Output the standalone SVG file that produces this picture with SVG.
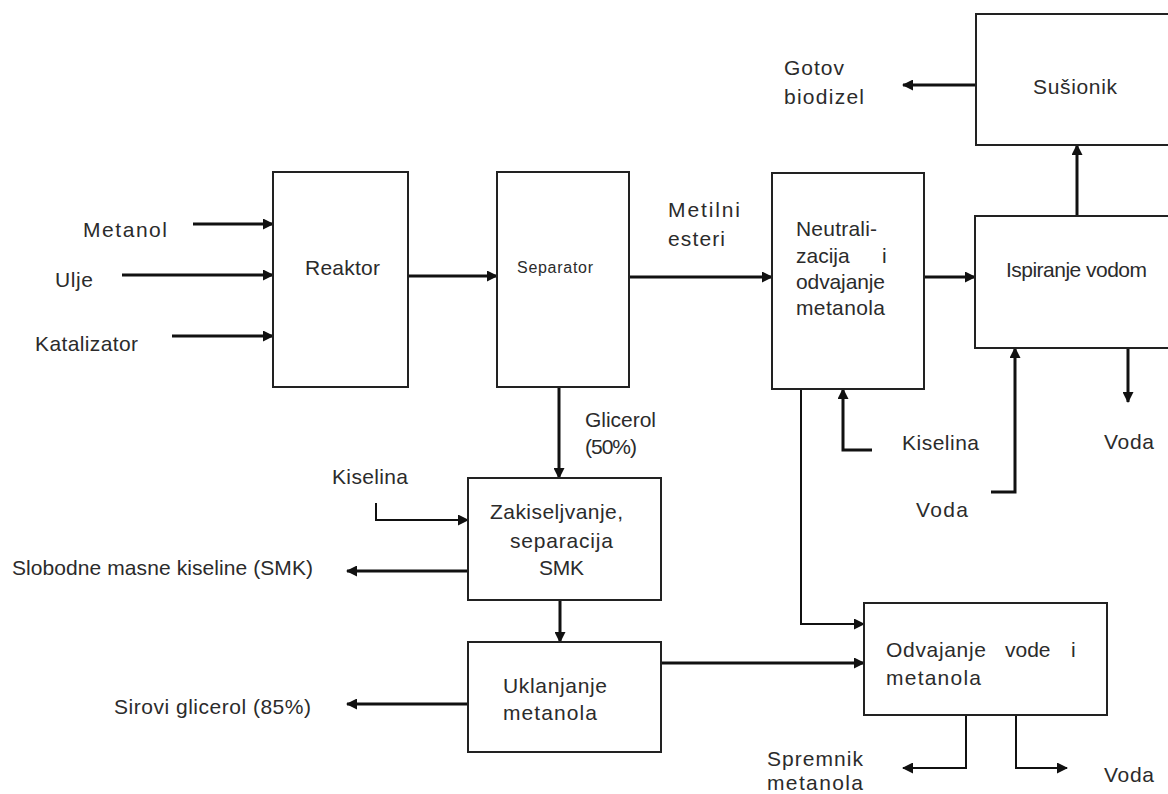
<svg xmlns="http://www.w3.org/2000/svg" width="1168" height="794" viewBox="0 0 1168 794">
<style>
.box{fill:#fff;stroke:#222;stroke-width:2}
.t{font-family:"Liberation Sans",Arial,sans-serif;font-size:21px;fill:#2b2b2b}
.s{font-size:16px}
.c{fill:none;stroke:#111;stroke-width:3;marker-end:url(#ah)}
.n{stroke-width:2}
</style>
<defs>
<marker id="ah" markerUnits="userSpaceOnUse" markerWidth="11" markerHeight="11" refX="10" refY="5.5" orient="auto">
<path d="M0,0 L11,5.5 L0,11 z" fill="#111"/>
</marker>
</defs>
<rect width="1168" height="794" fill="#fff"/>
<g id="connectors">
<path class="c" d="M193,224 H273"/>
<path class="c" d="M122,275 H273"/>
<path class="c" d="M172,336 H273"/>
<path class="c" d="M408,276 H497"/>
<path class="c" d="M629,277 H772"/>
<path class="c" d="M924,277 H975"/>
<path class="c" d="M1077,217 V145"/>
<path class="c" d="M976,85 H903"/>
<path class="c" d="M559,387 V478"/>
<path class="c n" d="M376,503 V520 H468"/>
<path class="c" d="M468,571 H347"/>
<path class="c" d="M560,600 V642"/>
<path class="c" d="M468,704 H347"/>
<path class="c" d="M661,663 H864"/>
<path class="c n" d="M801,389 V624 H864"/>
<path class="c" d="M872,450 H843 V389"/>
<path class="c" d="M991,492 H1015 V348"/>
<path class="c" d="M1128,348 V402"/>
<path class="c n" d="M966,715 V768 H903"/>
<path class="c n" d="M1016,715 V768 H1067"/>
</g>
<g id="reaktor"><rect class="box" x="273" y="172" width="135" height="215"/><text class="t" x="305" y="275" textLength="75">Reaktor</text></g>
<g id="separator"><rect class="box" x="497" y="172" width="132" height="215"/><text class="t s" x="517" y="273" textLength="76">Separator</text></g>
<g id="neutralizacija"><rect class="box" x="772" y="173" width="152" height="216"/>
<text class="t" x="796" y="236" textLength="81">Neutrali-</text>
<text class="t" x="796" y="263">zacija</text><text class="t" x="882" y="263">i</text>
<text class="t" x="796" y="289" textLength="89">odvajanje</text>
<text class="t" x="796" y="315" textLength="89">metanola</text></g>
<g id="ispiranje"><rect class="box" x="975" y="216" width="200" height="132"/><text class="t" x="1006" y="277" textLength="141">Ispiranje vodom</text></g>
<g id="susionik"><rect class="box" x="976" y="14" width="200" height="131"/><text class="t" x="1033" y="94" textLength="84">Sušionik</text></g>
<g id="zakiseljvanje"><rect class="box" x="468" y="478" width="193" height="122"/>
<text class="t" x="490" y="519" textLength="133">Zakiseljvanje,</text>
<text class="t" x="510" y="548" textLength="103">separacija</text>
<text class="t" x="539" y="575" textLength="45">SMK</text></g>
<g id="uklanjanje"><rect class="box" x="468" y="642" width="193" height="110"/>
<text class="t" x="503" y="693" textLength="104">Uklanjanje</text>
<text class="t" x="503" y="720" textLength="94">metanola</text></g>
<g id="odvajanje"><rect class="box" x="864" y="603" width="243" height="112"/>
<text class="t" x="886" y="657" textLength="100">Odvajanje</text><text class="t" x="1005" y="657">vode</text><text class="t" x="1071" y="657">i</text>
<text class="t" x="886" y="685" textLength="95">metanola</text></g>
<g id="labels">
<text class="t" x="83" y="237" textLength="84">Metanol</text>
<text class="t" x="55" y="287" textLength="38">Ulje</text>
<text class="t" x="35" y="351" textLength="103">Katalizator</text>
<text class="t" x="668" y="217" textLength="72">Metilni</text>
<text class="t" x="668" y="246" textLength="57">esteri</text>
<text class="t" x="784" y="75" textLength="60">Gotov</text>
<text class="t" x="784" y="104" textLength="80">biodizel</text>
<text class="t" x="585" y="427" textLength="71">Glicerol</text>
<text class="t" x="585" y="454" textLength="52">(50%)</text>
<text class="t" x="332" y="484" textLength="76">Kiselina</text>
<text class="t" x="12" y="575" textLength="301">Slobodne masne kiseline (SMK)</text>
<text class="t" x="114" y="714" textLength="197">Sirovi glicerol (85%)</text>
<text class="t" x="902" y="450" textLength="77">Kiselina</text>
<text class="t" x="916" y="517" textLength="52">Voda</text>
<text class="t" x="1104" y="449" textLength="50">Voda</text>
<text class="t" x="767" y="766" textLength="96">Spremnik</text>
<text class="t" x="767" y="790" textLength="96">metanola</text>
<text class="t" x="1104" y="782" textLength="50">Voda</text>
</g>
</svg>
